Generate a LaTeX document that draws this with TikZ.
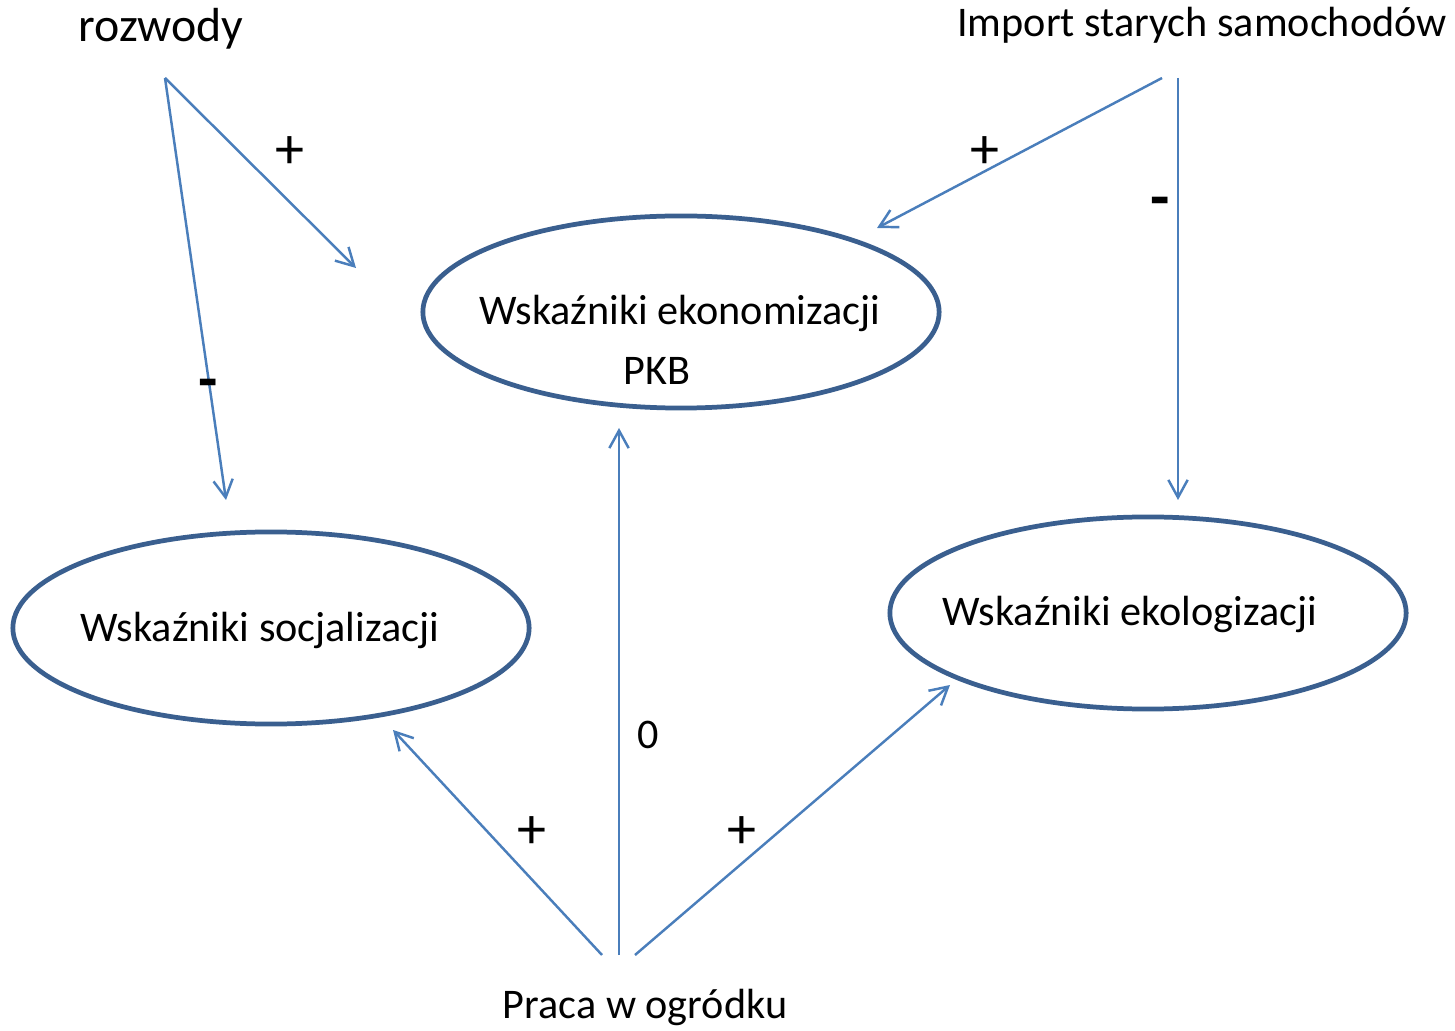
\documentclass[tikz,border=0pt]{standalone}
\usepackage{fontspec}
\setmainfont{Carlito}
\usetikzlibrary{arrows.meta,shapes.geometric}
\definecolor{ellcol}{HTML}{3A5F8F}
\definecolor{arrcol}{HTML}{4A7EBB}
\tikzset{
  ell/.style={ellipse, draw=ellcol, line width=1.35pt, minimum width=5.16cm, minimum height=1.92cm, inner sep=0pt},
  txt/.style={inner sep=0pt, anchor=base, font=\fontsize{12}{14}\selectfont},
  sgn/.style={inner sep=0pt, font=\fontsize{16.5}{18}\selectfont},
  conn/.style={draw=arrcol, line width=0.7pt, -{Straight Barb[length=5pt,width=5.5pt]}},
}
\begin{document}
\begin{tikzpicture}[x=0.01cm,y=-0.01cm]
\path[use as bounding box] (0,0) rectangle (1455,1031);
% ellipses
\node[ell] (econ) at (681,312) {};
\node[ell] (soc) at (271,628) {};
\node[ell] (eco) at (1148,613) {};
% texts
\node[txt] (econt) at (680,325) {Wskaźniki ekonomizacji};
\node[txt] (pkb) at (657,385) {PKB};
\node[txt] (soct) at (260,641) {Wskaźniki socjalizacji};
\node[txt] (ecot) at (1130,626) {Wskaźniki ekologizacji};
\node[txt, font=\fontsize{13.6}{15}\selectfont] (rozw) at (161,42) {rozwody};
\node[txt] (imp) at (1202,37) {Import starych samochodów};
\node[txt, font=\fontsize{12}{14}\selectfont] (praca) at (645,1018) {Praca w ogródku};
% connector ends
\coordinate (r0) at (165,78);
\coordinate (r1) at (356,268);
\coordinate (r2) at (226,500);
\coordinate (i0) at (1162,78);
\coordinate (i1) at (877,228);
\coordinate (j0) at (1178,78);
\coordinate (j1) at (1178,500);
\coordinate (p0) at (602,955);
\coordinate (p1) at (393,730);
\coordinate (q0) at (619,955);
\coordinate (q1) at (619,428);
\coordinate (s0) at (635,955);
\coordinate (s1) at (950,685);
\draw[conn] (r0) -- (r1);
\draw[conn] (r0) -- (r2);
\draw[conn] (i0) -- (i1);
\draw[conn] (j0) -- (j1);
\draw[conn] (p0) -- (p1);
\draw[conn] (q0) -- (q1);
\draw[conn] (s0) -- (s1);
% signs
\node[sgn] (l1) at (290,153) {+};
\node[sgn, font=\fontsize{18}{20}\selectfont\bfseries] (l2) at (208,390) {-};
\node[sgn] (l3) at (985,153) {+};
\node[sgn, font=\fontsize{18}{20}\selectfont\bfseries] (l4) at (1160,208) {-};
\node[sgn, font=\fontsize{12}{14}\selectfont] (l5) at (648,735) {0};
\node[sgn] (l6) at (532,833) {+};
\node[sgn] (l7) at (742,833) {+};
\end{tikzpicture}
\end{document}
